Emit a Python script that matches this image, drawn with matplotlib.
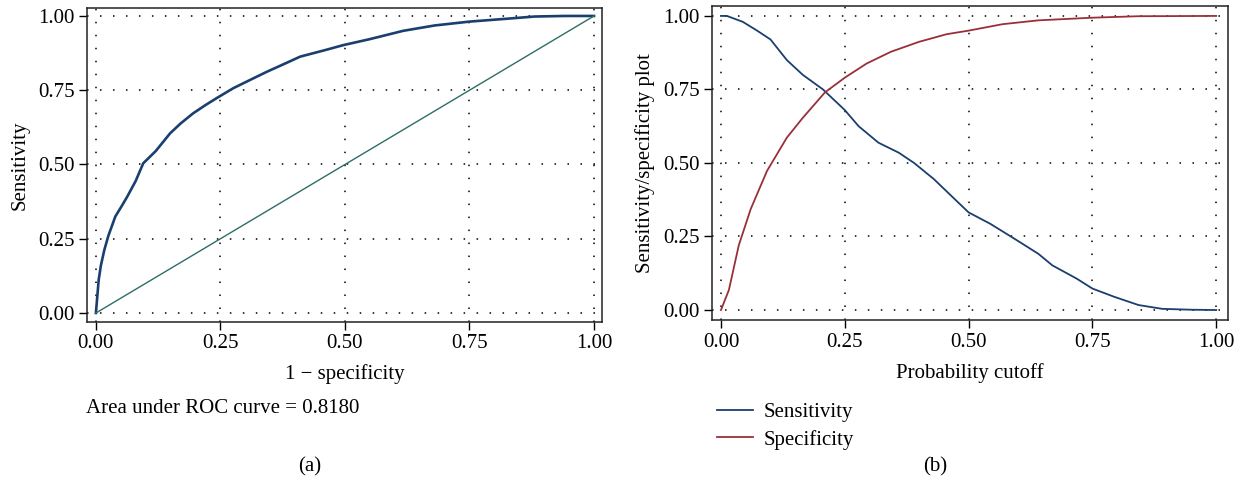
import matplotlib
matplotlib.use("Agg")
import matplotlib.pyplot as plt

plt.rcParams['font.family'] = ['Liberation Serif', 'DejaVu Serif']

# (a) ROC curve
roc_fpr = [0.0, 0.003, 0.0056, 0.01, 0.017, 0.025, 0.039, 0.05, 0.063, 0.08, 0.095,
           0.12, 0.149, 0.17, 0.195, 0.22, 0.242, 0.276, 0.31, 0.343, 0.38, 0.41, 0.46,
           0.497, 0.55, 0.617, 0.68, 0.75, 0.82, 0.88, 0.94, 1.0]
roc_tpr = [0.0, 0.06, 0.112, 0.16, 0.213, 0.26, 0.325, 0.355, 0.392, 0.445, 0.504,
           0.545, 0.605, 0.638, 0.672, 0.70, 0.723, 0.757, 0.785, 0.812, 0.84, 0.863, 0.885,
           0.902, 0.922, 0.95, 0.968, 0.981, 0.99, 0.998, 1.0, 1.0]
auc_text = "Area under ROC curve = 0.8180"

# (b) sensitivity / specificity vs probability cutoff
sens_cut = [0.0, 0.012, 0.044, 0.073, 0.1, 0.133, 0.165, 0.206, 0.25, 0.278, 0.318,
            0.359, 0.39, 0.43, 0.464, 0.5, 0.544, 0.593, 0.641, 0.669, 0.718, 0.75,
            0.794, 0.843, 0.891, 0.95, 1.0]
sens_val = [1.0, 1.0, 0.98, 0.95, 0.92, 0.85, 0.80, 0.75, 0.68, 0.625, 0.569,
            0.535, 0.50, 0.445, 0.39, 0.332, 0.293, 0.242, 0.191, 0.152, 0.107, 0.073,
            0.045, 0.017, 0.004, 0.001, 0.0]
spec_cut = [0.0, 0.016, 0.036, 0.06, 0.093, 0.133, 0.165, 0.21, 0.25, 0.294, 0.343,
            0.4, 0.456, 0.5, 0.569, 0.641, 0.75, 0.843, 1.0]
spec_val = [0.0, 0.068, 0.22, 0.343, 0.473, 0.586, 0.653, 0.74, 0.79, 0.838, 0.878,
            0.912, 0.938, 0.95, 0.972, 0.985, 0.994, 0.999, 1.0]

ticks = [0, 0.25, 0.5, 0.75, 1.0]
tick_labels = ["0.00", "0.25", "0.50", "0.75", "1.00"]

navy = '#1a3f6f'
maroon = '#9a2f3a'
green = '#2d6d66'
fs = 15

fig = plt.figure(figsize=(12.42, 4.90), dpi=100)
ax1 = fig.add_axes([0.070, 0.343, 0.4147, 0.6408])
ax2 = fig.add_axes([0.5733, 0.3469, 0.4155, 0.641])


def style(ax, xlim, ylim):
    ax.set_xlim(*xlim)
    ax.set_ylim(*ylim)
    ax.set_xticks(ticks)
    ax.set_xticklabels(tick_labels)
    ax.set_yticks(ticks)
    ax.set_yticklabels(tick_labels)
    ax.tick_params(labelsize=fs, direction='out', length=6, width=1, colors='black', pad=3)
    ax.grid(True, color='black', linestyle=(0, (1, 7.5)), linewidth=1.1)
    for s in ax.spines.values():
        s.set_linewidth(1.1)
        s.set_color('#222222')


# (a)
ax1.plot(roc_fpr, roc_tpr, color=navy, lw=1.9)
ax1.plot([0, 1], [0, 1], color=green, lw=1.0)
style(ax1, (-0.018, 1.016), (-0.030, 1.027))
ax1.set_xlabel("1 \u2212 specificity", fontsize=fs, labelpad=8)
ax1.set_ylabel("Sensitivity", fontsize=fs, labelpad=6)
fig.text(86 / 1242, 1 - 408 / 490, auc_text, fontsize=fs, va='center', ha='left')
fig.text(310 / 1242, 1 - 467 / 490, "(a)", fontsize=fs, va='center', ha='center')

# (b)
ax2.plot(sens_cut, sens_val, color=navy, lw=1.3, label='Sensitivity')
ax2.plot(spec_cut, spec_val, color=maroon, lw=1.3, label='Specificity')
style(ax2, (-0.018, 1.024), (-0.034, 1.034))
ax2.set_xlabel("Probability cutoff", fontsize=fs, labelpad=8)
ax2.set_ylabel("Sensitivity/specificity plot", fontsize=fs, labelpad=6)
fig.legend(loc='upper left', bbox_to_anchor=(698 / 1242, 1 - 384 / 490), frameon=False,
           fontsize=fs, handlelength=1.75, handletextpad=0.5, labelspacing=0.35)
fig.text(935 / 1242, 1 - 467 / 490, "(b)", fontsize=fs, va='center', ha='center')

fig.savefig('out.png', dpi=100)
